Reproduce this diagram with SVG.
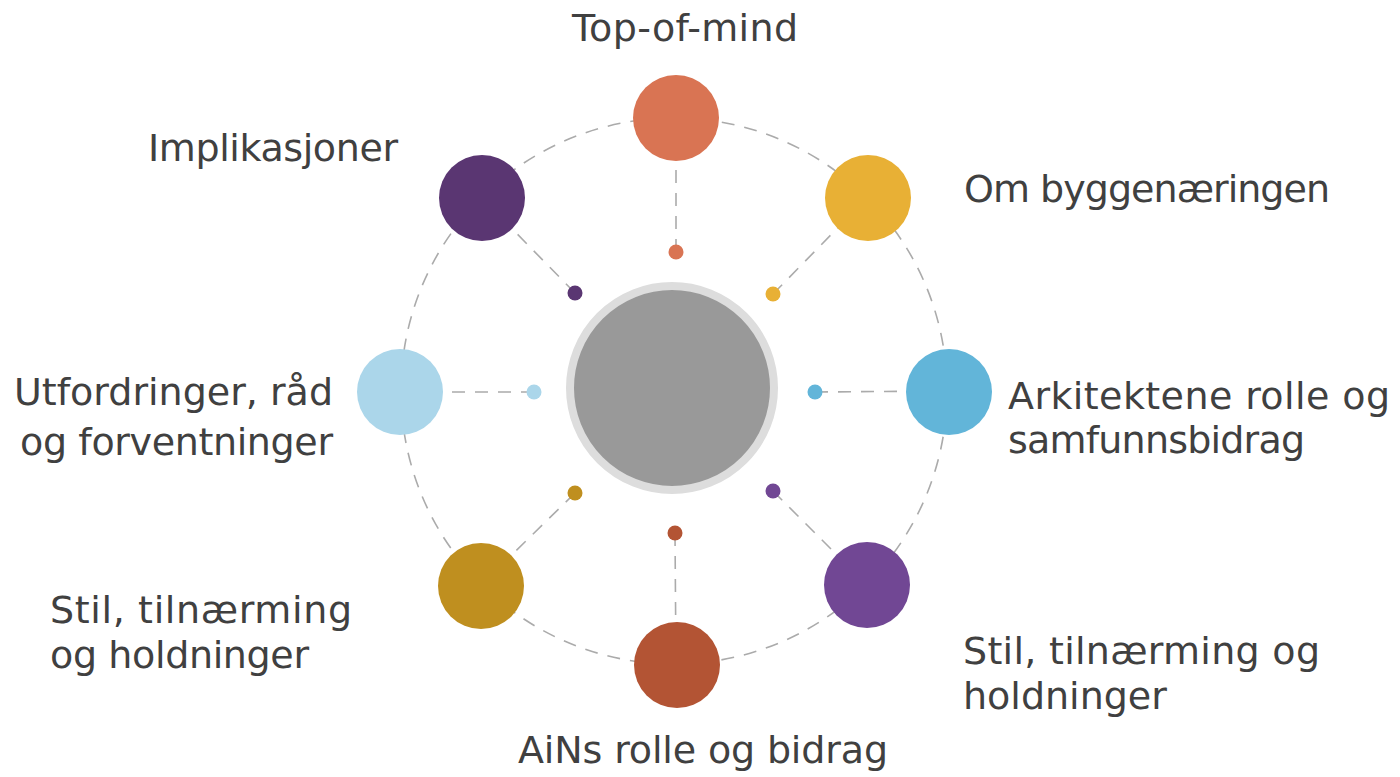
<svg xmlns="http://www.w3.org/2000/svg" width="1400" height="777" viewBox="0 0 1400 777">
<style>
.dash{fill:none;stroke:#ababab;stroke-width:1.6;stroke-dasharray:13 10}
.lbl{font-family:"DejaVu Sans","Liberation Sans",sans-serif;font-size:38px;fill:#404040}
</style>
<rect width="1400" height="777" fill="#ffffff"/>
<g id="connectors">
<circle class="dash" cx="674" cy="391" r="273"/>
<line class="dash" x1="676" y1="252" x2="676" y2="118"/>
<line class="dash" x1="773" y1="294" x2="867" y2="198"/>
<line class="dash" x1="815" y1="392" x2="947" y2="391"/>
<line class="dash" x1="773" y1="491" x2="867" y2="585"/>
<line class="dash" x1="675" y1="533" x2="676" y2="664"/>
<line class="dash" x1="575" y1="493" x2="481" y2="585"/>
<line class="dash" x1="534" y1="392" x2="400" y2="392"/>
<line class="dash" x1="575" y1="293" x2="482" y2="198"/>
</g>
<g id="center">
<circle cx="672" cy="388" r="102" fill="#999999" stroke="#dddddd" stroke-width="8"/>
</g>
<g id="node-top">
<circle cx="676" cy="118" r="43" fill="#d97453"/>
<circle cx="676" cy="252" r="7.5" fill="#d97453"/>
<text class="lbl" x="572" y="41" textLength="226">Top-of-mind</text>
</g>
<g id="node-topright">
<circle cx="868" cy="198" r="43" fill="#e8b035"/>
<circle cx="773" cy="294" r="7.5" fill="#e8b035"/>
<text class="lbl" x="964" y="202" textLength="366">Om byggenæringen</text>
</g>
<g id="node-right">
<circle cx="949" cy="392" r="43" fill="#62b5d9"/>
<circle cx="815" cy="392" r="7.5" fill="#62b5d9"/>
<text class="lbl" x="1008" y="409" textLength="382">Arkitektene rolle og</text>
<text class="lbl" x="1008" y="453" textLength="297">samfunnsbidrag</text>
</g>
<g id="node-bottomright">
<circle cx="867" cy="585" r="43" fill="#714794"/>
<circle cx="773" cy="491" r="7.5" fill="#714794"/>
<text class="lbl" x="963" y="664" textLength="357">Stil, tilnærming og</text>
<text class="lbl" x="963" y="709">holdninger</text>
</g>
<g id="node-bottom">
<circle cx="677" cy="665" r="43" fill="#b35434"/>
<circle cx="675" cy="533" r="7.5" fill="#b35434"/>
<text class="lbl" x="518" y="763" textLength="370">AiNs rolle og bidrag</text>
</g>
<g id="node-bottomleft">
<circle cx="481" cy="586" r="43" fill="#bf8f1f"/>
<circle cx="575" cy="493" r="7.5" fill="#bf8f1f"/>
<text class="lbl" x="50" y="623" textLength="302">Stil, tilnærming</text>
<text class="lbl" x="50" y="668" textLength="259">og holdninger</text>
</g>
<g id="node-left">
<circle cx="400" cy="392" r="43" fill="#abd6ea"/>
<circle cx="534" cy="392" r="7.5" fill="#abd6ea"/>
<text class="lbl" x="14" y="405" textLength="319">Utfordringer, råd</text>
<text class="lbl" x="20" y="455" textLength="313">og forventninger</text>
</g>
<g id="node-topleft">
<circle cx="482" cy="198" r="43" fill="#5a3672"/>
<circle cx="575" cy="293" r="7.5" fill="#5a3672"/>
<text class="lbl" x="148" y="161" textLength="250">Implikasjoner</text>
</g>
</svg>
